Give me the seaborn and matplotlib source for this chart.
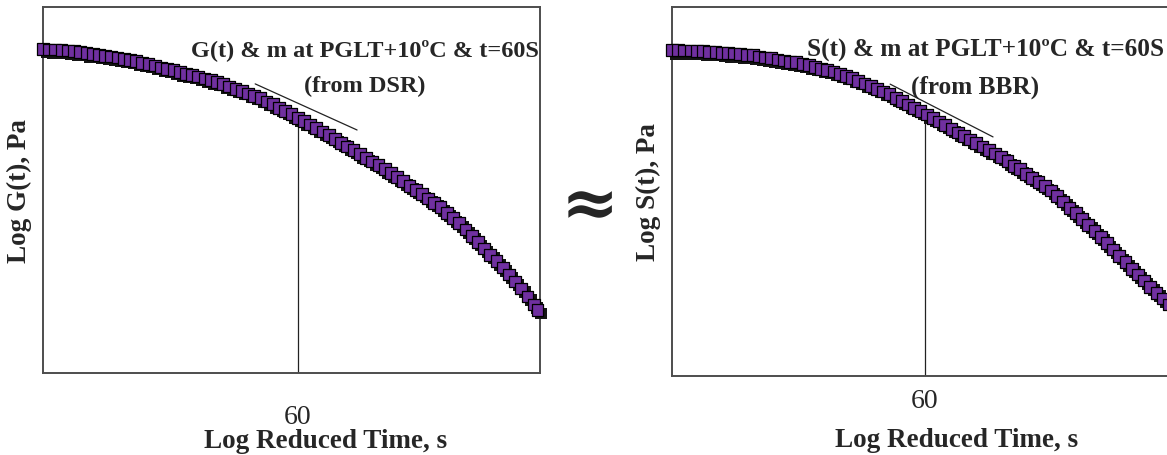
import pandas as pd
import seaborn as sns
import matplotlib.pyplot as plt
import matplotlib.patheffects as pe


# shared log reduced time positions (arbitrary axis units 0..10)
log_time = [0.0, 0.125, 0.25, 0.375, 0.5, 0.625, 0.75, 0.875,
            1.0, 1.125, 1.25, 1.375, 1.5, 1.625, 1.75, 1.875,
            2.0, 2.125, 2.25, 2.375, 2.5, 2.625, 2.75, 2.875,
            3.0, 3.125, 3.25, 3.375, 3.5, 3.625, 3.75, 3.875,
            4.0, 4.125, 4.25, 4.375, 4.5, 4.625, 4.75, 4.875,
            5.0, 5.125, 5.25, 5.375, 5.5, 5.625, 5.75, 5.875,
            6.0, 6.125, 6.25, 6.375, 6.5, 6.625, 6.75, 6.875,
            7.0, 7.125, 7.25, 7.375, 7.5, 7.625, 7.75, 7.875,
            8.0, 8.125, 8.25, 8.375, 8.5, 8.625, 8.75, 8.875,
            9.0, 9.125, 9.25, 9.375, 9.5, 9.625, 9.75, 9.875]

# log G(t) from DSR
log_g = [8.85, 8.84, 8.84, 8.83, 8.81, 8.79, 8.77, 8.74,
         8.72, 8.69, 8.67, 8.65, 8.62, 8.59, 8.56, 8.52,
         8.48, 8.44, 8.40, 8.35, 8.31, 8.27, 8.22, 8.18,
         8.14, 8.10, 8.05, 8.00, 7.95, 7.89, 7.83, 7.77,
         7.71, 7.64, 7.57, 7.51, 7.42, 7.34, 7.25, 7.16,
         7.07, 6.97, 6.88, 6.79, 6.69, 6.60, 6.50, 6.40,
         6.29, 6.19, 6.09, 5.98, 5.88, 5.78, 5.68, 5.57,
         5.46, 5.35, 5.24, 5.12, 5.00, 4.89, 4.77, 4.65,
         4.53, 4.38, 4.23, 4.09, 3.92, 3.75, 3.58, 3.40,
         3.23, 3.05, 2.88, 2.69, 2.50, 2.31, 2.09, 1.87]

# log S(t) from BBR
log_s = [8.83, 8.83, 8.82, 8.82, 8.81, 8.80, 8.79, 8.78,
         8.76, 8.75, 8.74, 8.72, 8.71, 8.69, 8.66, 8.63,
         8.61, 8.58, 8.55, 8.52, 8.50, 8.46, 8.42, 8.38,
         8.33, 8.29, 8.25, 8.19, 8.13, 8.07, 8.00, 7.93,
         7.86, 7.78, 7.71, 7.64, 7.54, 7.45, 7.36, 7.27,
         7.18, 7.09, 6.99, 6.90, 6.80, 6.70, 6.60, 6.50,
         6.41, 6.31, 6.22, 6.12, 6.03, 5.94, 5.82, 5.70,
         5.60, 5.48, 5.37, 5.26, 5.15, 5.03, 4.88, 4.73,
         4.56, 4.41, 4.25, 4.10, 3.93, 3.77, 3.60, 3.43,
         3.25, 3.08, 2.91, 2.75, 2.59, 2.42, 2.26, 2.10]

dsr_time = log_time + [9.95]
dsr_val = log_g + [1.72]
bbr_time = log_time + [10.0]
bbr_val = log_s + [1.94]

# t = 60 s marker and slope (m) line for each panel
t60_pos = [5.13, 5.09]
t60_top = [6.97, 7.12]
slope_x = [[4.27, 6.32], [4.39, 6.46]]
slope_y = [[7.90, 6.64], [7.91, 6.48]]

titles = ["G(t) & m at PGLT+10ºC & t=60S", "S(t) & m at PGLT+10ºC & t=60S"]
sources = ["(from DSR)", "(from BBR)"]
ylabels = ["Log G(t), Pa", "Log S(t), Pa"]


def DrawPanel(ax, t, v, i):
    df = pd.DataFrame({"t": t, "v": v})
    shadow = [pe.SimplePatchShadow(offset=(2.5, -2.5), shadow_rgbFace="#151515", alpha=1.0), pe.Normal()]
    sns.scatterplot(data=df, x="t", y="v", ax=ax, marker="s", s=72, color="#7030A0",
                    edgecolor="black", linewidth=0.9, clip_on=False, zorder=3,
                    path_effects=shadow)

    ax.plot([t60_pos[i], t60_pos[i]], [0, t60_top[i]], color="#222222", lw=0.9, zorder=2)
    ax.plot(slope_x[i], slope_y[i], color="#222222", lw=0.9, zorder=2)

    ax.set_xlim(0, 10)
    ax.set_ylim(0, 10)
    ax.set_yticks([])
    ax.set_xticks([t60_pos[i]])
    ax.set_xticklabels(["60"], fontsize=20)
    ax.tick_params(axis="x", length=0, pad=[22, 8.5][i])

    ax.set_xlabel("Log Reduced Time, s", fontsize=19.5, fontweight="bold")
    ax.set_ylabel(ylabels[i], fontsize=19.5, fontweight="bold")
    ax.xaxis.set_label_coords([0.569, 0.573][i], [-0.150, -0.139][i])
    ax.yaxis.set_label_coords(-0.022, 0.5)

    for sp in ax.spines.values():
        sp.set_color("#4d4d4d")
        sp.set_linewidth(1.4)

    tx = [6.48, 6.30][i]
    sx = [6.48, 6.10][i]
    fs = [17.5, 18.2][i]
    ax.text(tx, 8.85, titles[i], ha="center", va="center", fontsize=fs, fontweight="bold")
    ax.text(sx, 7.86, sources[i], ha="center", va="center", fontsize=fs, fontweight="bold")


def main():
    sns.set_style("white")
    plt.rcParams["font.family"] = ["Liberation Serif", "DejaVu Serif"]

    fig = plt.figure(figsize=(11.67, 4.56), dpi=100)
    ax1 = fig.add_axes([0.0368, 0.1798, 0.4259, 0.8026])
    ax2 = fig.add_axes([0.5758, 0.1732, 0.4259, 0.8092])

    DrawPanel(ax1, dsr_time, dsr_val, 0)
    DrawPanel(ax2, bbr_time, bbr_val, 1)

    fig.text(590 / 1167, 1 - 207 / 456, "≈", ha="center", va="center",
             fontsize=50, fontweight="bold", family=["DejaVu Serif"])

    fig.savefig("out.png", dpi=100)


if __name__ == "__main__":
    main()
